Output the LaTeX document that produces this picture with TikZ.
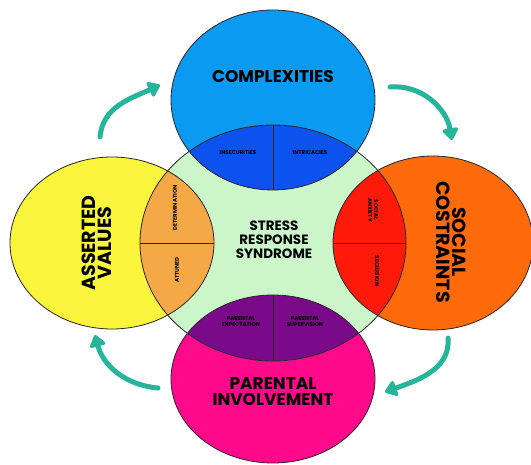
\documentclass[tikz,border=0pt]{standalone}
\usepackage{fontspec}
\setmainfont{Poppins}
\usetikzlibrary{positioning,arrows.meta}

\definecolor{cmplxblue}{RGB}{10,155,240}
\definecolor{insecblue}{RGB}{12,82,238}
\definecolor{stressgreen}{RGB}{202,246,202}
\definecolor{assertyellow}{RGB}{248,245,60}
\definecolor{attunedorange}{RGB}{244,168,70}
\definecolor{socialorange}{RGB}{255,106,10}
\definecolor{anxietyred}{RGB}{255,26,10}
\definecolor{parentpink}{RGB}{255,10,138}
\definecolor{expectpurple}{RGB}{122,10,138}
\definecolor{cycleteal}{RGB}{38,180,154}
\definecolor{rimdark}{RGB}{45,35,45}

\begin{document}
\begin{tikzpicture}[%
    x=1pt, y=1pt,
    rim/.style={draw=rimdark, line width=0.8pt},
    bigtitle/.style={font=\fontsize{17}{16}\selectfont\bfseries, align=center, inner sep=0pt},
    sidetitle/.style={font=\fontsize{19}{15.5}\selectfont\bfseries, align=center, inner sep=0pt},
    midtitle/.style={font=\fontsize{13.5}{14}\selectfont\bfseries, align=center, inner sep=0pt},
    lenslabel/.style={font=\fontsize{5.5}{6}\selectfont\bfseries, align=center, inner sep=0pt},
    cycle/.style={cycleteal, line width=5pt, line cap=round,
        -{Triangle[length=13pt,width=18pt,round]}}]

    \useasboundingbox[fill=white] (0,0) rectangle (531,464);

    \coordinate (ctr) at (273,221);
    \coordinate (top) at (273,364);
    \coordinate (lft) at (112,221);
    \coordinate (rgt) at (433,221);
    \coordinate (bot) at (273,85);

    % outer ellipses
    \fill[cmplxblue] (top) ellipse [x radius=102, y radius=90];
    \fill[assertyellow] (lft) ellipse [x radius=102, y radius=86];
    \fill[socialorange] (rgt) ellipse [x radius=100, y radius=87];
    \fill[parentpink] (bot) ellipse [x radius=102, y radius=84];
    \fill[stressgreen] (ctr) ellipse [x radius=133, y radius=118];

    % lenses
    \begin{scope}
      \clip (top) ellipse [x radius=102, y radius=90];
      \fill[insecblue] (ctr) ellipse [x radius=133, y radius=118];
    \end{scope}
    \begin{scope}
      \clip (lft) ellipse [x radius=102, y radius=86];
      \fill[attunedorange] (ctr) ellipse [x radius=133, y radius=118];
    \end{scope}
    \begin{scope}
      \clip (rgt) ellipse [x radius=100, y radius=87];
      \fill[anxietyred] (ctr) ellipse [x radius=133, y radius=118];
    \end{scope}
    \begin{scope}
      \clip (bot) ellipse [x radius=102, y radius=84];
      \fill[expectpurple] (ctr) ellipse [x radius=133, y radius=118];
    \end{scope}

    \draw[rim] (top) ellipse [x radius=102, y radius=90];
    \draw[rim] (lft) ellipse [x radius=102, y radius=86];
    \draw[rim] (rgt) ellipse [x radius=100, y radius=87];
    \draw[rim] (bot) ellipse [x radius=102, y radius=84];
    \draw[rim] (ctr) ellipse [x radius=133, y radius=118];

    % dividers
    \draw[rim] (273,339) -- (273,274);
    \draw[rim] (140,221) -- (214,221);
    \draw[rim] (333,221) -- (406,221);
    \draw[rim] (273,169) -- (273,103);

    \node[bigtitle] (cmplx) at (273,387) {COMPLEXITIES};
    \node[bigtitle] (prnt) at (273,72) {PARENTAL\\INVOLVEMENT};
    \node[sidetitle, rotate=90] (asrt) at (97,221) {ASSERTED\\VALUES};
    \node[sidetitle, rotate=-90] (socl) at (451,222) {SOCIAL\\COSTRAINTS};
    \node[midtitle] (strs) at (274,224) {STRESS\\RESPONSE\\SYNDROME};

    \node[lenslabel] (insec) at (238,311) {INSECURITIES};
    \node[lenslabel] (intric) at (310,311) {INTRICACIES};
    \node[lenslabel, rotate=90] (determ) at (175,256) {DETERMINATION};
    \node[lenslabel, rotate=90] (attun) at (177,194) {ATTUNED};
    \node[lenslabel, rotate=-90] (anx) at (373,254) {SOCIAL\\ANXIETY};
    \node[lenslabel, rotate=-90] (seclu) at (377,193) {SECLUSION};
    \node[lenslabel] (expect) at (241,142) {PARENTAL\\EXPECTATION};
    \node[lenslabel] (superv) at (305,142) {PARENTAL\\SUPERVISION};

    % cycle arrows
    \coordinate (c1a) at (100,327);
    \coordinate (c1b) at (160,379);
    \coordinate (c2a) at (390,377);
    \coordinate (c2b) at (452,324);
    \coordinate (c3a) at (448,126);
    \coordinate (c3b) at (385,72);
    \coordinate (c4a) at (158,76);
    \coordinate (c4b) at (95,129);

    \draw[cycle] (c1a) to[out=85, in=205] (c1b);
    \draw[cycle] (c2a) to[out=5, in=100] (c2b);
    \draw[cycle] (c3a) to[out=-85, in=20] (c3b);
    \draw[cycle] (c4a) to[out=175, in=-75] (c4b);

\end{tikzpicture}
\end{document}
